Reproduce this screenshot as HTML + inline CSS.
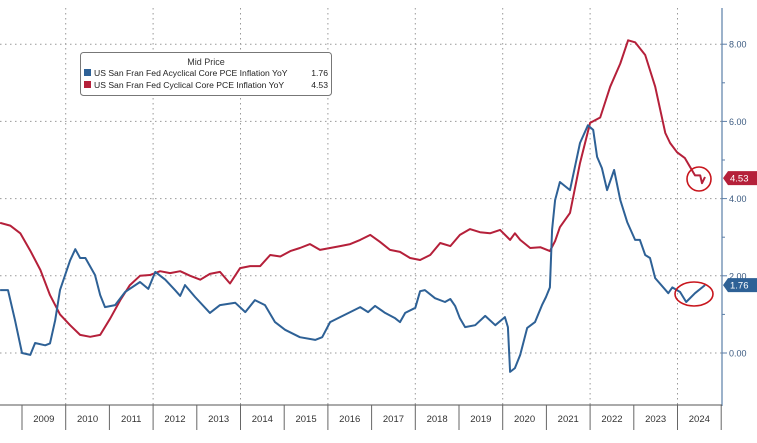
<!DOCTYPE html>
<html><head><meta charset="utf-8"><style>
body{margin:0;background:#fff;width:757px;height:438px;overflow:hidden;font-family:"Liberation Sans",sans-serif}
</style></head><body>
<svg id="chart" width="757" height="438" xmlns="http://www.w3.org/2000/svg"></svg>
<script>
const yTicks=[0,2,4,6,8];
const yTickLabels=["0.00","2.00","4.00","6.00","8.00"];
const years=[2009,2010,2011,2012,2013,2014,2015,2016,2017,2018,2019,2020,2021,2022,2023,2024];
const redDates=[2008.50,2008.73,2008.96,2009.19,2009.42,2009.64,2009.87,2010.10,2010.33,2010.56,2010.79,2011.02,2011.25,2011.47,2011.70,2011.93,2012.16,2012.39,2012.62,2012.85,2013.08,2013.30,2013.53,2013.76,2013.99,2014.22,2014.45,2014.68,2014.91,2015.14,2015.36,2015.59,2015.82,2016.05,2016.28,2016.51,2016.74,2016.97,2017.19,2017.42,2017.65,2017.88,2018.11,2018.34,2018.57,2018.80,2019.02,2019.25,2019.48,2019.71,2019.94,2020.17,2020.28,2020.40,2020.63,2020.86,2021.08,2021.20,2021.31,2021.54,2021.77,2022.00,2022.23,2022.46,2022.69,2022.87,2023.03,2023.26,2023.49,2023.72,2023.83,2023.99,2024.17,2024.40,2024.52,2024.56,2024.63];
const redValues=[3.37,3.30,3.10,2.65,2.15,1.50,1.00,0.72,0.47,0.42,0.47,0.90,1.37,1.76,2.00,2.02,2.12,2.07,2.12,2.00,1.90,2.05,2.10,1.80,2.20,2.25,2.25,2.54,2.50,2.64,2.72,2.82,2.67,2.72,2.77,2.82,2.93,3.06,2.88,2.67,2.62,2.46,2.41,2.54,2.85,2.77,3.06,3.21,3.13,3.10,3.19,2.93,3.10,2.93,2.72,2.74,2.64,2.90,3.26,3.63,4.92,5.96,6.10,6.90,7.50,8.10,8.05,7.72,6.90,5.70,5.44,5.20,5.05,4.60,4.60,4.40,4.56];
const blueDates=[2008.50,2008.68,2008.84,2009.00,2009.19,2009.30,2009.53,2009.64,2009.76,2009.87,2010.10,2010.22,2010.33,2010.45,2010.67,2010.79,2010.90,2011.13,2011.36,2011.70,2011.89,2012.05,2012.28,2012.50,2012.62,2012.73,2012.96,2013.30,2013.53,2013.88,2014.11,2014.33,2014.56,2014.79,2015.02,2015.36,2015.71,2015.87,2016.05,2016.28,2016.51,2016.74,2016.92,2017.08,2017.31,2017.54,2017.65,2017.77,2018.00,2018.11,2018.22,2018.45,2018.68,2018.80,2018.91,2019.02,2019.14,2019.37,2019.60,2019.83,2020.05,2020.12,2020.17,2020.28,2020.40,2020.56,2020.74,2020.90,2020.99,2021.08,2021.13,2021.20,2021.31,2021.54,2021.77,2021.95,2022.07,2022.16,2022.27,2022.39,2022.55,2022.69,2022.85,2023.03,2023.14,2023.26,2023.37,2023.49,2023.79,2023.88,2024.06,2024.20,2024.40,2024.63];
const blueValues=[1.63,1.63,0.85,0.00,-0.05,0.26,0.20,0.25,0.85,1.63,2.40,2.69,2.46,2.46,2.02,1.50,1.19,1.24,1.58,1.84,1.66,2.10,1.90,1.63,1.48,1.76,1.45,1.04,1.24,1.30,1.06,1.37,1.24,0.80,0.60,0.41,0.34,0.41,0.80,0.93,1.06,1.19,1.06,1.22,1.04,0.90,0.80,1.04,1.17,1.60,1.63,1.42,1.32,1.40,1.22,0.90,0.67,0.72,0.96,0.72,0.93,0.67,-0.49,-0.39,-0.05,0.65,0.80,1.24,1.45,1.70,3.20,3.96,4.43,4.22,5.44,5.90,5.78,5.08,4.79,4.22,4.74,3.96,3.39,2.93,2.93,2.54,2.46,1.94,1.55,1.70,1.58,1.32,1.55,1.76];
const lastRed=4.53, lastBlue=1.76;

const NS="http://www.w3.org/2000/svg";
const svg=document.getElementById('chart');
const X=t=>22+(t-2009)*43.7;
const Y=v=>353-38.6*v;
function mk(tag,attrs,parent){const e=document.createElementNS(NS,tag);for(const k in attrs)e.setAttribute(k,attrs[k]);(parent||svg).appendChild(e);return e;}

// horizontal grid
yTicks.forEach((v,i)=>{
  const g=mk('line',{x1:0,x2:722,y1:Y(v),y2:Y(v),stroke:'#999','stroke-dasharray':'1.5,3.5','stroke-width':1});
  
  
  const tk=mk('line',{x1:722,x2:727,y1:Y(v),y2:Y(v),stroke:'#5b7ea8'});
  
  
  const t=mk('text',{x:729,y:Y(v)+3.5,'font-size':9,fill:'#3b5a80'});
  t.textContent=yTickLabels[i];
  
  
  if(i<yTicks.length-1){
    const m=mk('line',{x1:722,x2:725,y1:Y(v+1),y2:Y(v+1),stroke:'#5b7ea8'});
    
    
  }
});
// vertical grid every 2 years
years.forEach(yr=>{
  if(yr%2===0){
    const g=mk('line',{x1:X(yr),x2:X(yr),y1:8,y2:405,stroke:'#999','stroke-dasharray':'1.5,3.5'});
    
    
  }
});
// axes
const ya=mk('line',{x1:722,x2:722,y1:8,y2:406,stroke:'#5b7ea8','stroke-width':1.2});


const xa=mk('line',{x1:0,x2:722,y1:405,y2:405,stroke:'#555'});


years.forEach(yr=>{
  const s=mk('line',{x1:X(yr),x2:X(yr),y1:405,y2:430,stroke:'#666'});
  
  
  const t=mk('text',{x:X(yr+0.5),y:422,'font-size':9.5,fill:'#333','text-anchor':'middle'});
  t.textContent=yr;
  
  
});
const se=mk('line',{x1:X(2025),x2:X(2025),y1:405,y2:430,stroke:'#666'});



function line(dates,vals,color,name){
  const d=dates.map((t,i)=>(i?'L':'M')+X(t).toFixed(1)+','+Y(vals[i]).toFixed(1)).join(' ');
  const p=mk('path',{d:d,fill:'none',stroke:color,'stroke-width':2,'stroke-linejoin':'round'});
  
  
}
line(redDates,redValues,'#b5203a','cyclical-series-line');
line(blueDates,blueValues,'#2e6196','acyclical-series-line');

// circles
const c1=mk('ellipse',{cx:699,cy:179,rx:12,ry:12,fill:'none',stroke:'#c8161d','stroke-width':1.6});


const c2=mk('ellipse',{cx:694,cy:294,rx:19,ry:12,fill:'none',stroke:'#c8161d','stroke-width':1.6});



// value tags
function tag(v,color,name){
  const y=Y(v);
  const p=mk('path',{d:`M723,${y} L728,${y-7} L757,${y-7} L757,${y+7} L728,${y+7} Z`,fill:color});
  
  
  const t=mk('text',{x:730,y:y+3.5,'font-size':9.5,fill:'#fff'});
  t.textContent=v.toFixed(2);
  
  
}
tag(lastRed,'#b5203a','cyclical-value-tag');
tag(lastBlue,'#2e6196','acyclical-value-tag');

// legend
const lg=mk('g',{});


const box=mk('rect',{x:80.5,y:52.5,width:251,height:43,rx:3,fill:'#fff',stroke:'#777'},lg);


const lt=mk('text',{x:206,y:65,'font-size':9,fill:'#333','text-anchor':'middle'},lg);
lt.textContent='Mid Price';


[['#2e6196','US San Fran Fed Acyclical Core PCE Inflation YoY','1.76',76],['#b5203a','US San Fran Fed Cyclical Core PCE Inflation YoY','4.53',88]].forEach((e,i)=>{
  const s=mk('rect',{x:84,y:e[3]-7,width:7,height:7,fill:e[0]},lg);
  
  
  const t=mk('text',{x:94,y:e[3],'font-size':8.6,fill:'#222'},lg);
  t.textContent=e[1];
  
  
  const v=mk('text',{x:328,y:e[3],'font-size':8.6,fill:'#222','text-anchor':'end'},lg);
  v.textContent=e[2];
  
  
});
</script>
</body></html>
